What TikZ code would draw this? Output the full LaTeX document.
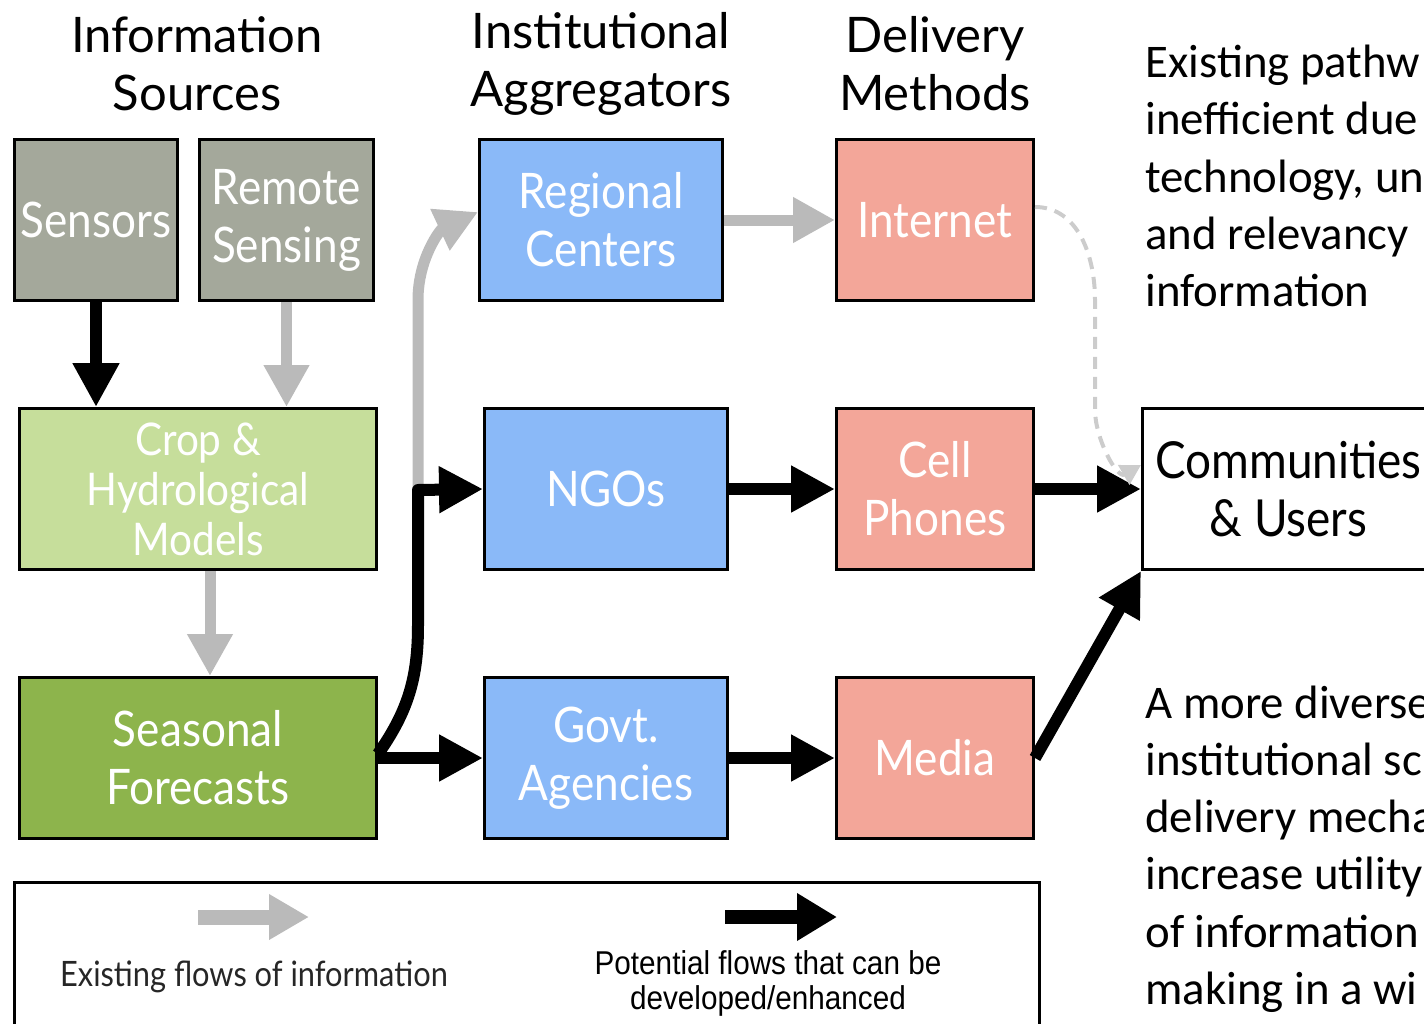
\documentclass[tikz,border=0pt]{standalone}
\usepackage{fontspec}
\newfontfamily\boxfont[FakeStretch=0.9]{Lato}
\newfontfamily\headfont{Lato}
\newfontfamily\notefont{Carlito}
\newfontfamily\keyfont[FakeStretch=0.9]{Liberation Sans}
\newfontfamily\keyoldfont[FakeStretch=0.88]{Lato}
\definecolor{srcgray}{RGB}{164,168,155}
\definecolor{cropgreen}{RGB}{198,222,155}
\definecolor{fcgreen}{RGB}{141,180,76}
\definecolor{aggblue}{RGB}{138,185,248}
\definecolor{delpink}{RGB}{243,166,153}
\definecolor{flowgray}{RGB}{186,186,186}
\definecolor{dashgray}{RGB}{204,204,204}
\usetikzlibrary{positioning,arrows.meta}

\begin{document}
\begin{tikzpicture}[x=0.5pt, y=-0.5pt,
  box/.style={draw=black, line width=1.5pt, minimum height=80.5pt, align=center, inner sep=0pt, text=white, font=\boxfont\fontsize{24.5}{29}\selectfont},
  srcbox/.style={box, fill=srcgray},
  modbox/.style={box, fill=cropgreen, minimum width=178.5pt},
  aggbox/.style={box, fill=aggblue, minimum width=121.5pt},
  delbox/.style={box, fill=delpink, minimum width=98.5pt},
  head/.style={font=\headfont\fontsize{24.5}{29}\selectfont, align=center},
  note/.style={font=\notefont\fontsize{23.4}{28.6}\selectfont, align=left, anchor=west, inner sep=0pt},
  existing/.style={-{Triangle[width=21.5pt, length=21pt]}, line width=5.5pt, color=flowgray},
  potential/.style={-{Triangle[width=22pt, length=22pt]}, line width=6pt, color=black},
  node distance=52.5pt
]
  \clip (0,0) rectangle (1424,1023);
  \useasboundingbox (0,0) rectangle (1424,1023);

  % column headings
  \node[head] (hsrc) at (197,64) {Information\\Sources};
  \node[head] (hagg) at (601,64) {Institutional\\Aggregators};
  \node[head] (hdel) at (935,64) {Delivery\\Methods};

  % information sources
  \node[srcbox, minimum width=81.5pt] (sensors) at (96,220) {Sensors};
  \node[srcbox, minimum width=87pt, right=9.5pt of sensors] (remote) {Remote\\Sensing};
  \node[modbox, font=\boxfont\fontsize{22.5}{25}\selectfont] (crop) at (198,489) {Crop \&\\Hydrological\\Models};
  \node[modbox, fill=fcgreen, below=of crop] (seasonal) {Seasonal\\Forecasts};

  % aggregators and delivery
  \node[aggbox] (regional) at (601,220) {Regional\\Centers};
  \node[aggbox, below=of regional, xshift=2.5pt] (ngos) {NGOs};
  \node[aggbox, below=of ngos] (govt) {Govt.\\Agencies};
  \node[delbox] (internet) at (935,220) {Internet};
  \node[delbox, below=of internet] (cell) {Cell\\Phones};
  \node[delbox, below=of cell] (media) {Media};
  \node[box, fill=white, text=black, minimum width=146pt, anchor=west, font=\boxfont\fontsize{25.5}{29}\selectfont] (comm) at (1141,489) {Communities\\\& Users};

  % side notes
  \node[note] (noteold) at (1145,176) {Existing pathw\\inefficient due\\technology, un\\and relevancy\\information};
  \node[note] (notenew) at (1145,849) {A more diverse\\institutional sc\\delivery mecha\\increase utility\\of information\\making in a wi};

  % flows
  \coordinate (fork) at (418,490);
  \draw[potential] (sensors.south) -- (crop.north -| sensors.south);
  \draw[existing] (remote.south) -- (crop.north -| remote.south);
  \draw[existing] (crop.south -| 210,0) -- (seasonal.north -| 210,0);
  \draw[potential] (seasonal.east) -- (govt.west);
  \draw[existing] (fork) -- (418,300) to[out=90, in=205] ([yshift=4pt]regional.west);
  \draw[potential, line join=round] ([yshift=2pt]seasonal.east) to[out=55, in=-90] (418,625) -- (fork) -- (ngos.west);
  \draw[existing] (regional.east) -- (internet.west);
  \draw[potential] (ngos.east) -- (cell.west);
  \draw[potential] (govt.east) -- (media.west);
  \draw[potential] (cell.east) -- (comm.west);
  \draw[potential] (media.east) -- (comm.south west);
  \draw[-{Triangle[width=11pt, length=10pt]}, line width=2pt, color=dashgray, dashed, dash pattern=on 6pt off 4pt]
    ([yshift=6.5pt]internet.east) to[out=0, in=90] (1095,300) -- (1095,410) to[out=-90, in=210] ([yshift=12pt]comm.west);

  % legend
  \node[draw=black, line width=1.5pt, minimum width=512.5pt, minimum height=80pt, anchor=north west, inner sep=0pt] (legend) at (13,881) {};
  \coordinate (oldA) at (198,917);
  \coordinate (oldB) at (309,917);
  \coordinate (newA) at (725,917);
  \coordinate (newB) at (837,917);
  \draw[-{Triangle[width=21.5pt, length=20pt]}, line width=7.5pt, color=flowgray] (oldA) -- (oldB);
  \draw[-{Triangle[width=22.5pt, length=20pt]}, line width=7pt, color=black] (newA) -- (newB);
  \node[font=\keyoldfont\fontsize{17.5}{20}\selectfont, text=black!85] (keyold) at (254,977) {Existing flows of information};
  \node[font=\keyfont\fontsize{16.5}{17.5}\selectfont, align=center] (keynew) at (768,983) {Potential flows that can be\\developed/enhanced};
\end{tikzpicture}
\end{document}
